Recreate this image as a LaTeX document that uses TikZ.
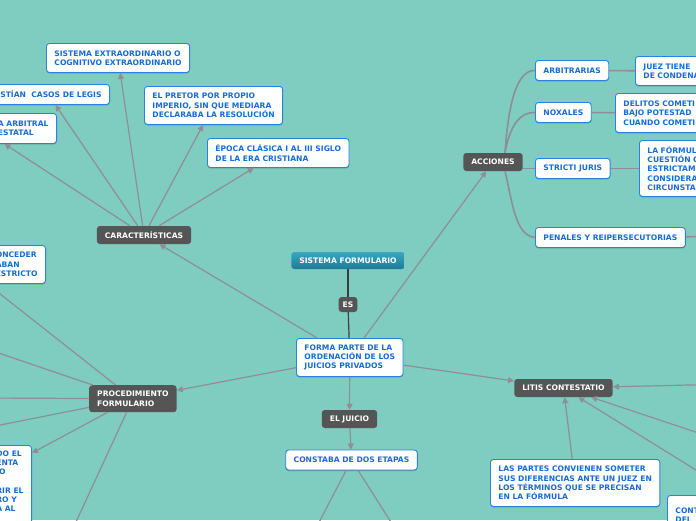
\documentclass[tikz,border=0pt]{standalone}
\usepackage{fontspec}
\setmainfont{DejaVu Sans}
\usetikzlibrary{arrows.meta,shadows}

\definecolor{mapbg}{RGB}{127,205,192}
\definecolor{linkgray}{RGB}{143,141,150}
\definecolor{spinegray}{RGB}{60,62,62}
\definecolor{topicfill}{RGB}{85,85,85}
\definecolor{leafline}{RGB}{40,130,225}
\definecolor{leaftext}{RGB}{22,108,214}
\definecolor{rootA}{RGB}{58,166,192}
\definecolor{rootB}{RGB}{28,124,152}

\newcommand\mapfont{\fontsize{7.6}{9.3}\selectfont\bfseries}

\tikzset{
  link/.style={draw=linkgray, line width=1.2pt, -{Triangle[length=6pt,width=6pt]}},
  branch/.style={draw=linkgray, line width=1.6pt},
  spine/.style={draw=spinegray, line width=1.2pt},
  topic/.style={fill=topicfill, text=white, rounded corners=3pt, font=\mapfont,
    align=left, inner xsep=8pt, inner ysep=2pt, minimum height=18pt},
  leaf/.style={fill=white, draw=leafline, line width=0.9pt, rounded corners=3pt,
    text=leaftext, font=\mapfont, align=left, inner xsep=8pt, inner ysep=2pt,
    minimum height=20pt,
    drop shadow={shadow xshift=0pt, shadow yshift=-1pt, opacity=0.25, fill=black}},
  rootbox/.style={top color=rootA, bottom color=rootB, text=white, rounded corners=3pt,
    font=\mapfont, inner xsep=8pt, inner ysep=2pt, minimum height=17pt}
}

\begin{document}
\begin{tikzpicture}[x=1pt, y=-1pt]
  \useasboundingbox (0,0) rectangle (696,520);
  \fill[mapbg] (0,0) rectangle (696,520);
  \clip (0,0) rectangle (696,520);

  % centre
  \node[rootbox] (root) at (348,260.5) {SISTEMA FORMULARIO};
  \node[topic, minimum height=15pt, inner xsep=4pt] (es) at (348,304.5) {ES};
  \node[leaf, minimum height=38pt, anchor=north west] (forma) at (296,338)
    {FORMA PARTE DE LA\\ORDENACIÓN DE LOS\\JUICIOS PRIVADOS};
  \node[topic] (juicio) at (349.5,419) {EL JUICIO};
  \node[leaf] (etapas) at (351.5,460) {CONSTABA DE DOS ETAPAS};

  % caracteristicas
  \node[topic] (caract) at (144,235) {CARACTERÍSTICAS};
  \node[leaf, minimum height=29pt, anchor=north west] (sisext) at (46,43)
    {SISTEMA EXTRAORDINARIO O\\COGNITIVO EXTRAORDINARIO};
  \node[leaf, anchor=north east] (legis) at (110,84) {ESTÍAN\ \ CASOS DE LEGIS};
  \node[leaf, minimum height=30pt, anchor=north east] (arbitral) at (57,113)
    {A ARBITRAL\\ESTATAL};
  \node[leaf, minimum height=38pt, anchor=north west] (pretor) at (144,86)
    {EL PRETOR POR PROPIO\\IMPERIO, SIN QUE MEDIARA\\DECLARABA LA RESOLUCIÓN};
  \node[leaf, minimum height=29pt, anchor=north west] (epoca) at (207,138)
    {ÉPOCA CLÁSICA I AL III SIGLO\\DE LA ERA CRISTIANA};

  % procedimiento
  \node[topic, minimum height=27pt, anchor=north west] (proc) at (89,385)
    {PROCEDIMIENTO\\FORMULARIO};
  \node[leaf, minimum height=38pt, anchor=north east] (onceder) at (46,245)
    {ONCEDER\\ABAN\\ESTRICTO};
  \node[leaf, inner ysep=5pt, anchor=north east] (bleft) at (32,445)
    {DO EL\\ENTA\\IO\\[9.3pt]RIR EL\\RO Y\\A AL\\ \mbox{}};

  % acciones
  \node[topic] (acciones) at (493,162) {ACCIONES};
  \node[leaf, anchor=north west] (arbitrarias) at (535,60) {ARBITRARIAS};
  \node[leaf, text width=80pt, minimum height=29pt, anchor=north west] (juez) at (635,56)
    {JUEZ TIENE\\DE CONDENA};
  \node[leaf, anchor=north west] (noxales) at (535,102) {NOXALES};
  \node[leaf, text width=100pt, minimum height=39pt, anchor=north west] (delitos) at (615,93)
    {DELITOS COMETI\\BAJO POTESTAD\\CUANDO COMETI};
  \node[leaf, anchor=north west] (stricti) at (535,158) {STRICTI JURIS};
  \node[leaf, text width=80pt, minimum height=56pt, anchor=north west] (formula) at (639,140)
    {LA FÓRMUL\\CUESTIÓN C\\ESTRICTAM\\CONSIDERA\\CIRCUNSTA};
  \node[leaf, anchor=north west] (penales) at (535,227) {PENALES Y REIPERSECUTORIAS};

  % litis
  \node[topic] (litis) at (563.5,388) {LITIS CONTESTATIO};
  \node[leaf, minimum height=47pt, anchor=north west] (partes) at (490,459)
    {LAS PARTES CONVIENEN SOMETER\\SUS DIFERENCIAS ANTE UN JUEZ EN\\LOS TÉRMINOS QUE SE PRECISAN\\EN LA FÓRMULA};
  \node[leaf, text width=60pt, minimum height=40pt, anchor=north west] (cont) at (667,495)
    {CONT\\DEL};

  % ends outside the frame
  \coordinate (pl1) at (-20,346.7);
  \coordinate (pl2) at (-20,398);
  \coordinate (pl3) at (-20,429);
  \coordinate (pl5) at (72,530.6);
  \coordinate (r1) at (710,384.5);
  \coordinate (r2) at (710,436.8);
  \coordinate (r3) at (710,478.7);
  \coordinate (e1) at (315,530);
  \coordinate (e2) at (396,530);
  \coordinate (pr) at (710,236.5);

  % spine
  \draw[spine] (root) -- (es);
  \draw[spine] (es) -- (forma);

  % links
  \draw[link] (forma) -- (acciones);
  \draw[link] (forma) -- (caract);
  \draw[link] (forma) -- (proc);
  \draw[link] (forma) -- (litis);
  \draw[link] (forma) -- (juicio);
  \draw[link] (juicio) -- (etapas);
  \draw[link] (etapas) -- (e1);
  \draw[link] (etapas) -- (e2);

  \draw[link] (caract) -- (sisext);
  \draw[link] (caract) -- (legis);
  \draw[link] (caract) -- ([xshift=15pt]arbitral.south west);
  \draw[link] (caract) -- (pretor);
  \draw[link] (caract) -- (epoca);

  \draw[link] (proc) -- (onceder.south west);
  \draw[link] (proc) -- (pl1);
  \draw[link] (proc) -- (pl2);
  \draw[link] (proc) -- (pl3);
  \draw[link] (proc) -- ([yshift=-8pt]bleft.north east);
  \draw[link] (proc) -- (pl5);

  \draw[link] (r1) -- (litis);
  \draw[link] (r2) -- (litis);
  \draw[link] (r3) -- (litis);
  \draw[link] (partes) -- (litis);

  % acciones branches
  \draw[branch] ([xshift=12pt]acciones.north) .. controls (508,110) and (515,70) .. (arbitrarias.west);
  \draw[branch] ([xshift=12pt]acciones.north) .. controls (510,125) and (520,112) .. (noxales.west);
  \draw[branch] (stricti.west -| acciones.east) -- (stricti.west);
  \draw[branch] ([xshift=12pt]acciones.south) .. controls (512,200) and (515,236) .. (penales.west);
  \draw[branch] (arbitrarias) -- (juez);
  \draw[branch] (noxales) -- (delitos);
  \draw[branch] (stricti) -- (formula);
  \draw[branch] (penales) -- (pr);
\end{tikzpicture}
\end{document}
